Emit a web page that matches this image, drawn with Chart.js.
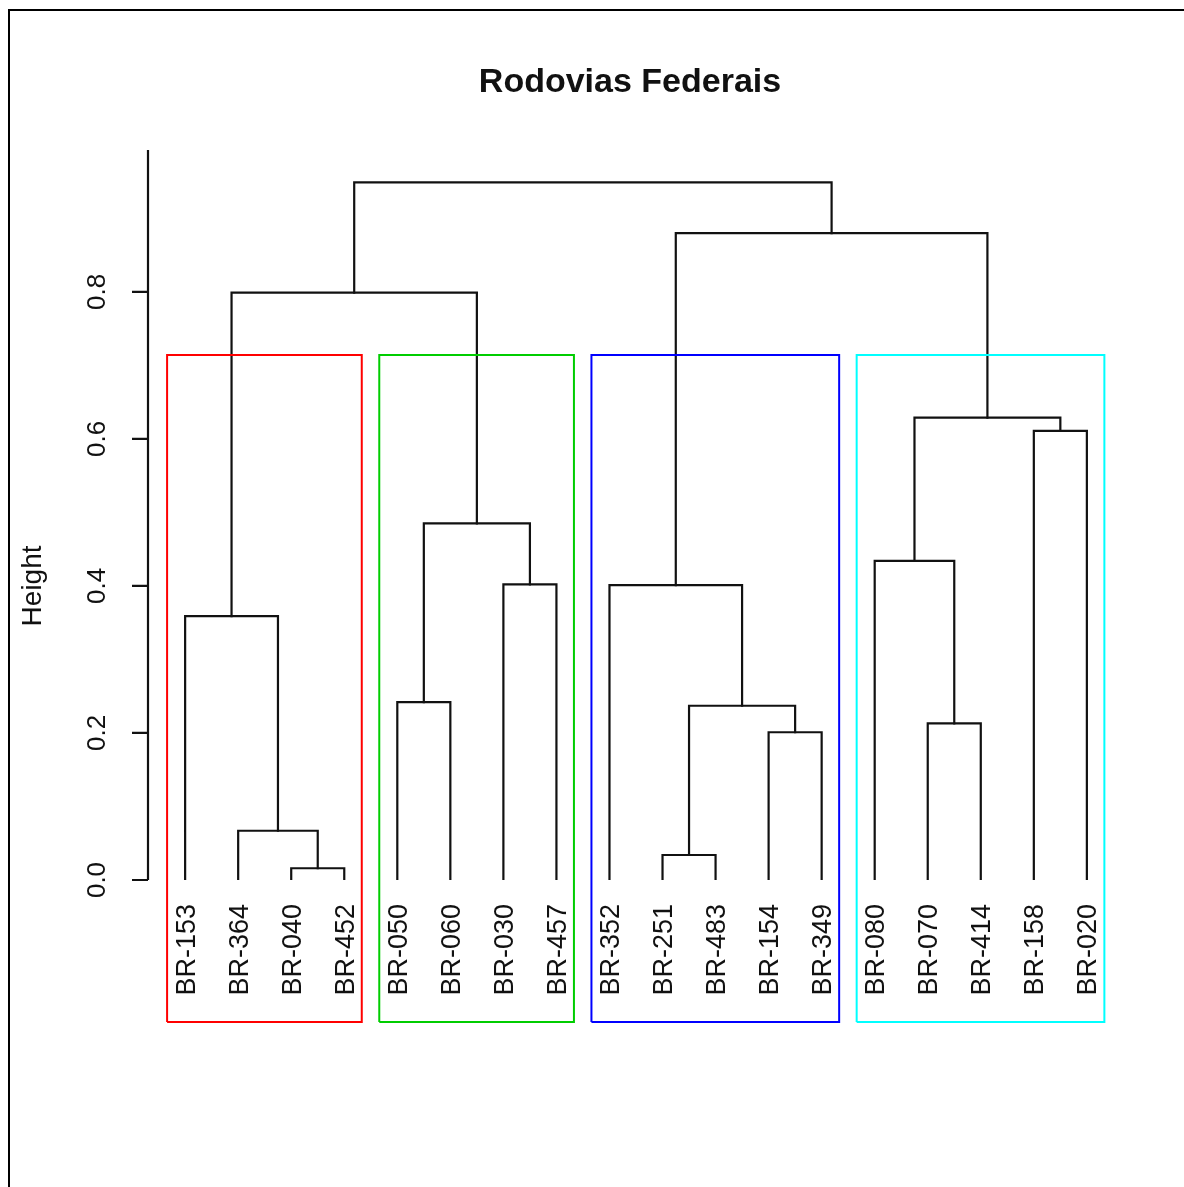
<!DOCTYPE html>
<html>
<head>
<meta charset="utf-8">
<title>Rodovias Federais</title>
<script src="https://cdn.jsdelivr.net/npm/chart.js@4.4.1/dist/chart.umd.min.js"></script>
<style>
  html, body { margin: 0; padding: 0; background: #fff; overflow: hidden; }
  #wrap { width: 1184px; height: 1187px; position: relative; }
</style>
</head>
<body>
<div id="wrap"><canvas id="dendro"></canvas></div>
<script>
// leaves in plotting order
const leaves = ['BR-153', 'BR-364', 'BR-040', 'BR-452', 'BR-050', 'BR-060', 'BR-030', 'BR-457', 'BR-352',
                'BR-251', 'BR-483', 'BR-154', 'BR-349', 'BR-080', 'BR-070', 'BR-414', 'BR-158', 'BR-020'];

// merge table like R's hclust: negative = leaf number, positive = earlier merge step
const mergeLeft   = [-3, -10, -2, -12, -15, 2, -5, -1, -9, -7, -14, 7, -17, 11, 8, 9, 15];
const mergeRight  = [-4, -11, 1, -13, -16, 4, -6, 3, 6, -8, 5, 10, -18, 13, 12, 14, 16];
const mergeHeight = [0.016, 0.034, 0.067, 0.201, 0.213, 0.237, 0.242, 0.359, 0.401, 0.402,
                     0.434, 0.485, 0.611, 0.629, 0.799, 0.880, 0.949];

// 4 groups cut from the tree (leaf counts, left to right)
const clusterSizes = [4, 4, 5, 5];
const clusterColors = ['#ff0000', '#00cd00', '#0000ff', '#00ffff'];

const tickValues = [0, 0.2, 0.4, 0.6, 0.8];
const tickLabels = ['0.0', '0.2', '0.4', '0.6', '0.8'];

const FONT = "'Liberation Sans', Arial, Helvetica, sans-serif";

// node positions
const nodeX = [];
const nodeY = [];
function posOf(ref) {
    if (ref < 0) return { x: -ref, y: 0 };
    return { x: nodeX[ref - 1], y: nodeY[ref - 1] };
}

const datasets = [];

// cluster rectangles (drawn on top, like rect.hclust)
const k = clusterSizes.length;
const sortedDesc = mergeHeight.slice().sort((a, b) => b - a);
const rectTop = (sortedDesc[k - 2] + sortedDesc[k - 1]) / 2;
const rectBottom = -0.193;
let start = 0;
clusterSizes.forEach((n, i) => {
    const a = start + 0.66, b = start + n + 0.33;
    datasets.push({
        data: [{ x: a, y: rectBottom }, { x: a, y: rectTop }, { x: b, y: rectTop }, { x: b, y: rectBottom }, { x: a, y: rectBottom }],
        borderColor: clusterColors[i],
        borderWidth: 2,
        showLine: true,
        pointRadius: 0,
        tension: 0,
        clip: false,
        order: 0
    });
    start += n;
});

// dendrogram branches
mergeHeight.forEach((h, i) => {
    const l = posOf(mergeLeft[i]);
    const r = posOf(mergeRight[i]);
    nodeX.push((l.x + r.x) / 2);
    nodeY.push(h);
    datasets.push({
        data: [{ x: l.x, y: l.y }, { x: l.x, y: h }, { x: r.x, y: h }, { x: r.x, y: r.y }],
        borderColor: '#111',
        borderWidth: 2.2,
        showLine: true,
        pointRadius: 0,
        tension: 0,
        borderCapStyle: 'square',
        borderJoinStyle: 'miter',
        order: 1
    });
});

function vText(ctx, text, x, y, align) {
    ctx.save();
    ctx.translate(x, y);
    ctx.rotate(-Math.PI / 2);
    ctx.textAlign = align;
    ctx.textBaseline = 'alphabetic';
    ctx.fillText(text, 0, 0);
    ctx.restore();
}

const decorations = {
    id: 'decorations',
    beforeDraw(chart) {
        const ctx = chart.ctx;
        ctx.save();
        ctx.fillStyle = '#fff';
        ctx.fillRect(0, 0, chart.width, chart.height);
        // outer frame
        ctx.strokeStyle = '#000';
        ctx.lineWidth = 2;
        ctx.beginPath();
        ctx.moveTo(9, chart.height);
        ctx.lineTo(9, 10);
        ctx.lineTo(chart.width, 10);
        ctx.stroke();
        ctx.restore();
    },
    afterDraw(chart) {
        const ctx = chart.ctx;
        const xs = chart.scales.x, ys = chart.scales.y;
        const area = chart.chartArea;
        const axisX = area.left;
        const y0 = ys.getPixelForValue(0);
        ctx.save();
        ctx.strokeStyle = '#111';
        ctx.fillStyle = '#111';
        ctx.lineWidth = 2.2;

        // y axis
        ctx.beginPath();
        ctx.moveTo(axisX, y0);
        ctx.lineTo(axisX, area.top);
        tickValues.forEach(v => {
            const py = ys.getPixelForValue(v);
            ctx.moveTo(axisX - 16, py);
            ctx.lineTo(axisX, py);
        });
        ctx.stroke();

        ctx.font = '26px ' + FONT;
        tickValues.forEach((v, i) => {
            vText(ctx, tickLabels[i], 105, ys.getPixelForValue(v), 'center');
        });
        ctx.font = '28px ' + FONT;
        vText(ctx, 'Height', 41, (ys.getPixelForValue(0.2) + ys.getPixelForValue(0.6)) / 2, 'center');

        // leaf labels
        ctx.font = '27px ' + FONT;
        leaves.forEach((name, i) => {
            vText(ctx, name, xs.getPixelForValue(i + 1) + 9.5, y0 + 24, 'right');
        });

        // title
        ctx.font = 'bold 34px ' + FONT;
        ctx.textAlign = 'center';
        ctx.textBaseline = 'alphabetic';
        ctx.fillText('Rodovias Federais', 630, 92);
        ctx.restore();
    }
};

const chart = new Chart(document.getElementById('dendro'), {
    type: 'scatter',
    data: { datasets: datasets },
    options: {
        responsive: true,
        maintainAspectRatio: false,
        animation: false,
        layout: { padding: { left: 148, top: 150, right: 60, bottom: 307 } },
        plugins: { legend: { display: false }, tooltip: { enabled: false } },
        scales: {
            x: { type: 'linear', display: false, min: 0.3, max: 18.7 },
            y: { type: 'linear', display: false, min: 0, max: 0.993 }
        }
    },
    plugins: [decorations]
});
</script>
</body>
</html>
